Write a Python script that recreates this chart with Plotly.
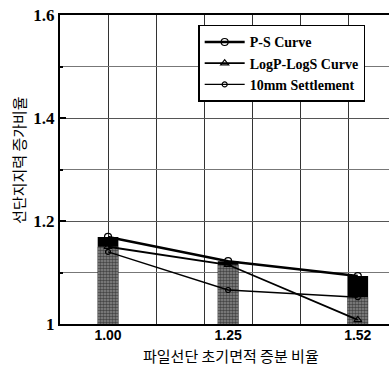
import numpy as np
import plotly.graph_objects as go

# Data
x_ratio = [1.00, 1.25, 1.52]
x_labels = ["1.00", "1.25", "1.52"]
ps_curve = [1.169, 1.122, 1.093]
logp_logs = [1.150, 1.115, 1.008]
settle_10mm = [1.140, 1.066, 1.052]
stipple_vals = list(np.maximum(logp_logs, settle_10mm))

fig = go.Figure()

# Bars (black top = P-S, stippled = lower values)
fig.add_trace(go.Bar(x=x_ratio, y=[v - 1 for v in ps_curve], base=1, width=0.043,
                     marker=dict(color="#000000", line=dict(width=0)),
                     showlegend=False, hoverinfo="skip"))
fig.add_trace(go.Bar(x=x_ratio, y=[v - 1 for v in stipple_vals], base=1, width=0.043,
                     marker=dict(color="#555555", line=dict(width=0),
                                 pattern=dict(shape=".", fgcolor="#000000", bgcolor="#8a8a8a",
                                              size=3, solidity=0.55)),
                     showlegend=False, hoverinfo="skip"))

# Lines
fig.add_trace(go.Scatter(x=x_ratio, y=ps_curve, mode="lines+markers", name="P-S Curve",
                         line=dict(color="black", width=2.5),
                         marker=dict(symbol="circle-open", size=7, color="black", line=dict(width=1.2))))
fig.add_trace(go.Scatter(x=x_ratio, y=logp_logs, mode="lines+markers", name="LogP-LogS Curve",
                         line=dict(color="black", width=1.8),
                         marker=dict(symbol="triangle-up-open", size=7, color="black", line=dict(width=1.2))))
fig.add_trace(go.Scatter(x=x_ratio, y=settle_10mm, mode="lines+markers", name="10mm Settlement",
                         line=dict(color="black", width=1.4),
                         marker=dict(symbol="circle-open", size=5, color="black", line=dict(width=1.2))))

fig.update_layout(
    width=389, height=367,
    margin=dict(l=60, r=0, t=15, b=43),
    paper_bgcolor="white", plot_bgcolor="white",
    barmode="overlay",
    showlegend=True,
    legend=dict(x=0.42, y=0.968, xanchor="left", yanchor="top",
                bgcolor="white", bordercolor="black", borderwidth=1.5,
                font=dict(family="Liberation Serif", size=14, color="black", weight="bold"),
                tracegroupgap=0, itemwidth=40),
    xaxis=dict(range=[0.9, 1.585], tickvals=x_ratio, ticktext=x_labels,
               showgrid=False, zeroline=False,
               showline=True, linecolor="black", linewidth=2, mirror=True,
               ticks="", ticklabelstandoff=-3,
               tickfont=dict(family="Liberation Sans", size=14, color="black", weight="bold"),
               minor=dict(tick0=0.9, dtick=0.1, showgrid=True, gridcolor="#333333", gridwidth=1, ticks="")),
    yaxis=dict(range=[1, 1.6], dtick=0.2, tick0=1,
               showgrid=True, gridcolor="#555555", gridwidth=1, zeroline=False,
               showline=True, linecolor="black", linewidth=2,
               ticks="inside", ticklen=6, tickwidth=2, tickcolor="black",
               tickfont=dict(family="Liberation Serif", size=17, color="black", weight="bold"),
               minor=dict(dtick=0.1, showgrid=True, gridcolor="#777777", gridwidth=1,
                          ticks="inside", ticklen=3, tickcolor="black")),
    annotations=[
        dict(text="선단지지력 증가비율", xref="paper", yref="paper", x=0, y=0.531,
             xshift=-41, xanchor="center", yanchor="middle", textangle=-90, showarrow=False,
             font=dict(family="Noto Sans CJK KR", size=15, color="black")),
        dict(text="파일선단 초기면적 증분 비율", xref="x", yref="paper", x=1.256, y=0,
             yshift=-31, xanchor="center", yanchor="middle", showarrow=False,
             font=dict(family="Noto Sans CJK KR", size=15, color="black")),
    ],
)

fig.write_html("out.html")
